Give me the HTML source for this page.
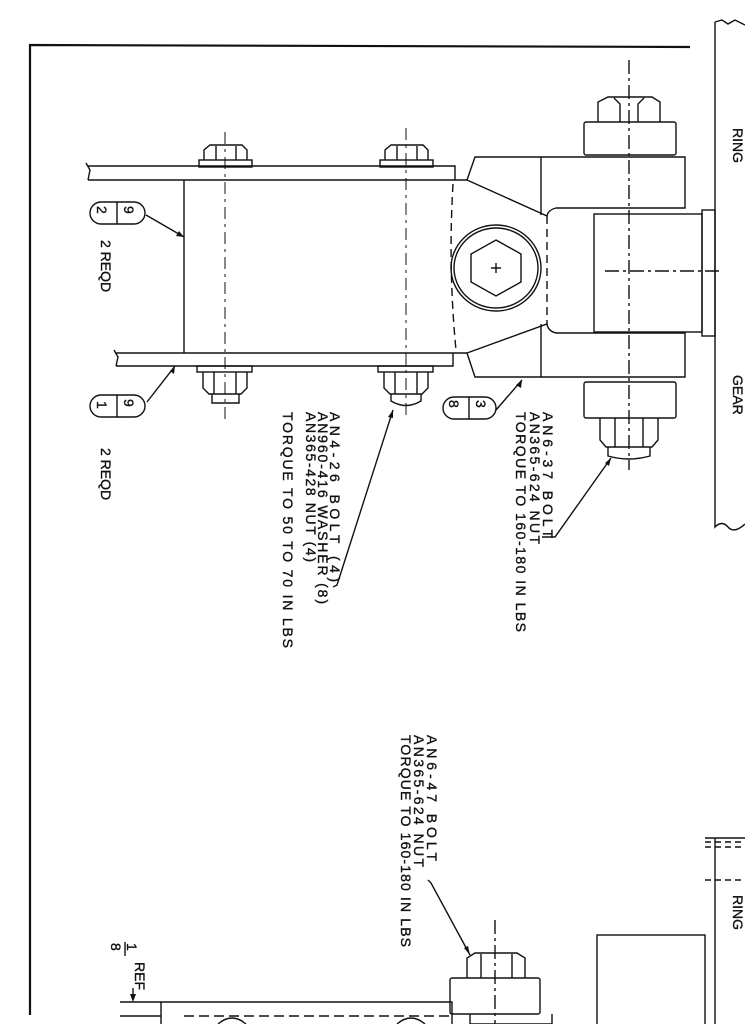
<!DOCTYPE html>
<html><head><meta charset="utf-8"><style>
html,body{margin:0;padding:0;background:#fff;}
svg{display:block;}
text{font-family:"Liberation Sans",sans-serif;fill:#111;font-size:14px;stroke:#111;stroke-width:0.35;}
</style></head><body>
<svg width="745" height="1024" viewBox="0 0 745 1024" xmlns="http://www.w3.org/2000/svg">
<g fill="none" stroke="#111" stroke-width="1.4">
<path d="M30 1015 V45 L690 47" stroke-width="2.2"/>
<path d="M715 22 V527 Q722 520 728 527 T745 524"/>
<path d="M715 22 L722 20 L728 24 L735 20 L745 25"/>
<path d="M715 838 V1024"/>
<path d="M705 838 H745"/>
<path d="M705 842 H745 M705 847 H745 M705 880 H745" stroke-dasharray="6,4"/>

<path d="M88 166 H455 V180 M88 180 H467"/>
<path d="M86 163 L90 170 L88 180"/>
<path d="M116 353 H467 M116 366 H453 V353"/>
<path d="M114 350 L118 357 L116 366"/>
<path d="M184 180 V353"/>
<path d="M467 180 L475 157 H685 V208 H556 Q548 210 547 216 L467 180"/>
<path d="M467 353 L475 377 H685 V333 H556 Q548 331 547 324 L467 353"/>
<path d="M541 157 V215 M541 324 V377"/>
<path d="M547 216 V324 M453 184 Q448 268 456 350" stroke-dasharray="8,5"/>
<rect x="594" y="214" width="108" height="118"/>
<rect x="702" y="210" width="13" height="126"/>
<ellipse cx="496" cy="268" rx="45" ry="43"/>
<ellipse cx="496" cy="268" rx="42" ry="40"/>
<polygon points="496,240 521,254 521,282 496,296 471,282 471,254"/>
<path d="M491 268 H501 M496 263 V273"/>
<path d="M598 122 V102 L608 97 H652 L660 102 V122 M614 98 L620 104 V122 M644 98 L638 104 V122"/>
<rect x="584" y="122" width="92" height="33" rx="2"/>
<rect x="584" y="382" width="92" height="36" rx="2"/>
<path d="M600 418 V440 L606 447 H652 L658 440 V418 M615 418 V447 M643 418 V447"/>
<path d="M608 447 V456 Q629 462 650 456 V447"/>
<path d="M629 60 V470 M605 271 H720" stroke-dasharray="14,4,3,4"/>
<path d="M204 160 V150 L210 145 H242 L247 150 V160 M216 146 V160 M236 146 V160"/>
<rect x="199" y="160" width="53" height="7"/>
<path d="M385 160 V150 L391 145 H423 L428 150 V160 M397 146 V160 M417 146 V160"/>
<rect x="380" y="160" width="53" height="7"/>
<rect x="197" y="366" width="55" height="6"/>
<path d="M203 372 V388 L209 394 H241 L247 388 V372 M214 372 V394 M236 372 V394"/>
<path d="M212 394 V403 H239 V394"/>
<rect x="378" y="366" width="55" height="6"/>
<path d="M384 372 V388 L390 394 H422 L428 388 V372 M395 372 V394 M417 372 V394"/>
<path d="M391 394 V401 Q406 410 421 401 V394"/>
<path d="M225 132 V420 M406 128 V420" stroke-dasharray="12,5,3,5" stroke-width="1"/>
<rect x="90" y="202" width="55" height="22" rx="11"/>
<path d="M117 202 V224"/>
<rect x="90" y="395" width="55" height="22" rx="11"/>
<path d="M117 395 V417"/>
<rect x="443" y="397" width="53" height="22" rx="11"/>
<path d="M469 397 V419"/>
<path d="M146 215 L184 237 M147 402 L175 366 M496 410 L522 380"/>
<path d="M333 587 L337 585 L393 410 M542 537 L555 537 L611 458 M428 880 L431 883 L470 955"/>
<path d="M161 1002 H452 V1024 M161 1002 V1024"/>
<path d="M120 1002 H161 M120 1016 H161"/>
<path d="M184 1016 H450" stroke-dasharray="10,5"/>
<path d="M467 978 V958 L475 953 H517 L525 958 V978 M481 954 V978 M512 954 V978"/>
<rect x="450" y="978" width="90" height="36" rx="2"/>
<path d="M470 1014 V1024 H552 V1014"/>
<path d="M495 920 V1024" stroke-dasharray="14,4,3,4"/>
<path d="M218 1024 Q232 1012 246 1024 M397 1024 Q411 1012 425 1024"/>
<rect x="597" y="935" width="108" height="95"/>
<path d="M133 988 V1000"/>
<path d="M125 942 V956"/>
</g>
<g fill="#111">
<polygon points="184,237 176,236 179,231"/>
<polygon points="175,366 174,374 170,371"/>
<polygon points="522,380 521,388 516,385"/>
<polygon points="393,410 393,418 388,417"/>
<polygon points="611,458 609,466 605,463"/>
<polygon points="470,955 464,948 468,946"/>
<polygon points="133,1002 130,994 136,994"/>
</g>
<g>
<text transform="translate(733,128) rotate(90)" font-size="13">RING</text>
<text transform="translate(733,375) rotate(90)" font-size="13">GEAR</text>
<text transform="translate(733,895) rotate(90)" font-size="13">RING</text>
<text transform="translate(124,206) rotate(90)" font-size="18">9</text>
<text transform="translate(97,206) rotate(90)" font-size="18">2</text>
<text transform="translate(124,399) rotate(90)" font-size="18">9</text>
<text transform="translate(97,401) rotate(90)" font-size="18">1</text>
<text transform="translate(476,400) rotate(90)" font-size="18">3</text>
<text transform="translate(449,400) rotate(90)" font-size="18">8</text>
<text transform="translate(101,240) rotate(90)" font-size="13">2 REQD</text>
<text transform="translate(101,448) rotate(90)" font-size="13">2 REQD</text>
<text transform="translate(330,412) rotate(90)" textLength="170">AN4-26 BOLT (4)</text>
<text transform="translate(318,412) rotate(90)" textLength="192">AN960-416 WASHER (8)</text>
<text transform="translate(306,412) rotate(90)" textLength="150">AN365-428 NUT (4)</text>
<text transform="translate(283,412) rotate(90)" textLength="236">TORQUE TO 50 TO 70 IN LBS</text>
<text transform="translate(543,412) rotate(90)" textLength="126">AN6-37 BOLT</text>
<text transform="translate(530,412) rotate(90)" textLength="132">AN365-624 NUT</text>
<text transform="translate(516,412) rotate(90)" textLength="220">TORQUE TO 160-180 IN LBS</text>
<text transform="translate(427,735) rotate(90)" textLength="126">AN6-47 BOLT</text>
<text transform="translate(414,735) rotate(90)" textLength="132">AN365-624 NUT</text>
<text transform="translate(401,735) rotate(90)" textLength="212">TORQUE TO 160-180 IN LBS</text>
<text transform="translate(127,943) rotate(90)" font-size="12">1</text>
<text transform="translate(111,943) rotate(90)" font-size="12">8</text>
<text transform="translate(135,962) rotate(90)" font-size="12">REF</text>
</g>
</svg>
</body></html>
